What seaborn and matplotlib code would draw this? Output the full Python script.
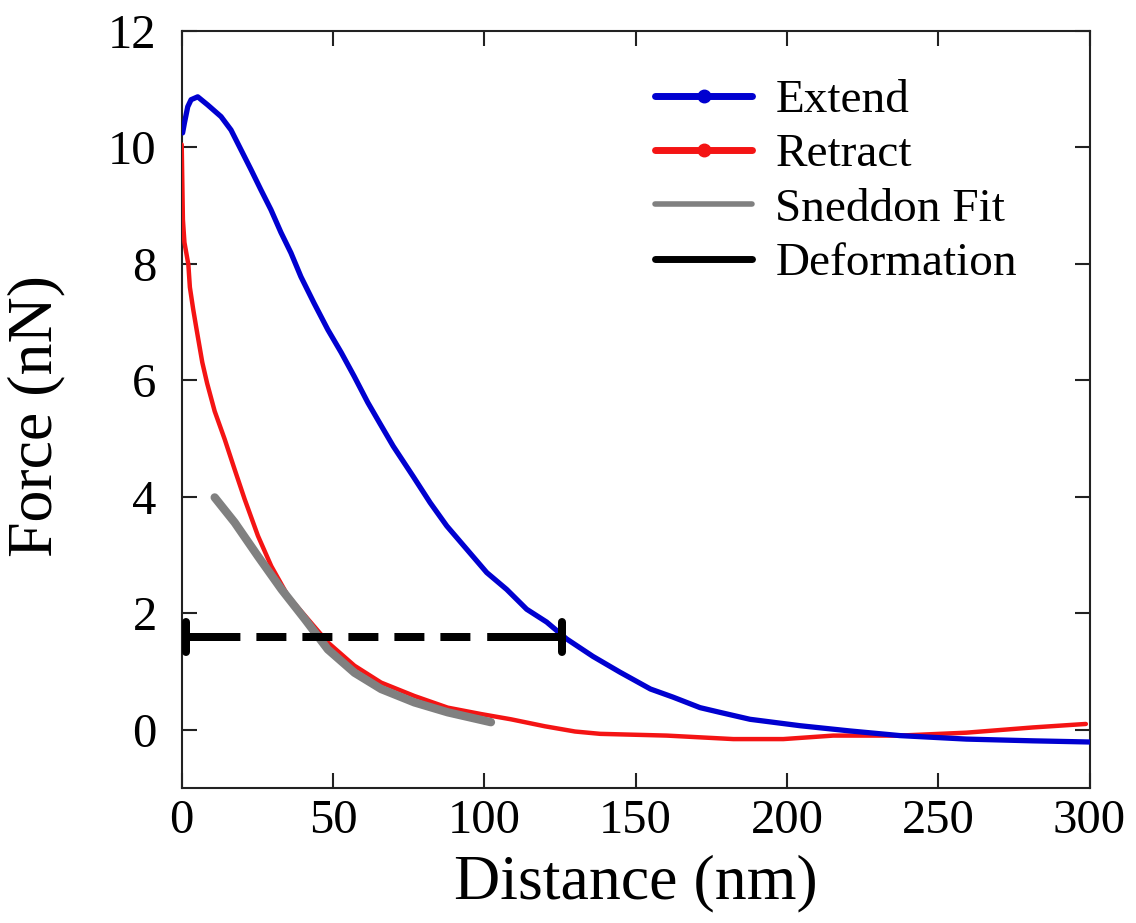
import matplotlib
matplotlib.use("Agg")
import matplotlib.pyplot as plt
from matplotlib.lines import Line2D
import numpy as np
import pandas as pd
import seaborn as sns

# ---- data (distance in nm, force in nN) ----
extend_x = [0.3, 0.9, 2.0, 3.1, 5.3, 8.6, 13.0, 16.3, 19.6, 22.9, 26.2, 29.5, 32.8,
            36.1, 39.4, 43.7, 48.3, 52.7, 57.0, 61.5, 65.4, 69.9, 76.5, 82.1, 87.6,
            94.2, 100.8, 107.4, 114.0, 120.6, 127.2, 135.9, 144.8, 154.9, 162.4,
            171.3, 177.8, 187.8, 204.3, 220.8, 237.3, 259.3, 281.3, 300.0]
extend_f = [10.25, 10.42, 10.70, 10.82, 10.87, 10.73, 10.53, 10.30, 9.96, 9.62, 9.27,
            8.93, 8.54, 8.19, 7.78, 7.33, 6.87, 6.48, 6.07, 5.62, 5.27, 4.87, 4.35,
            3.90, 3.50, 3.10, 2.70, 2.41, 2.07, 1.85, 1.56, 1.26, 0.99, 0.70, 0.56,
            0.38, 0.30, 0.18, 0.07, -0.02, -0.10, -0.16, -0.19, -0.21]

retract_x = [0.0, 0.4, 0.9, 2.2, 2.7, 3.8, 4.9, 6.8, 8.4, 10.9, 14.2, 17.5, 20.8,
             25.2, 29.6, 35.1, 41.7, 48.3, 57.1, 65.9, 76.9, 87.9, 98.9, 108.8,
             120.0, 130.0, 138.3, 160.3, 182.3, 198.8, 215.3, 237.3, 259.3, 281.3,
             298.8]
retract_f = [10.05, 8.76, 8.37, 7.99, 7.60, 7.22, 6.88, 6.31, 5.95, 5.47, 4.99, 4.47,
             3.96, 3.33, 2.81, 2.30, 1.90, 1.50, 1.10, 0.81, 0.58, 0.38, 0.27, 0.18,
             0.06, -0.03, -0.07, -0.10, -0.16, -0.16, -0.10, -0.10, -0.05, 0.04, 0.10]

fit_x = [10.9, 17.5, 25.2, 33.0, 40.7, 48.3, 57.1, 65.9, 76.9, 87.9, 102.2]
fit_f = [3.99, 3.56, 2.98, 2.41, 1.90, 1.38, 0.98, 0.70, 0.47, 0.30, 0.13]

deform_x = [1.3, 125.6]
deform_f = 1.59

x_ticks = [0, 50, 100, 150, 200, 250, 300]
y_ticks = [0, 2, 4, 6, 8, 10, 12]
labels = ["Extend", "Retract", "Sneddon Fit", "Deformation"]

BLUE = "#0000d0"
RED = "#f41414"
GRAY = "#808080"

sns.set_theme(style="ticks")
plt.rcParams["font.family"] = ["Liberation Serif", "DejaVu Serif"]
plt.rcParams["text.color"] = "black"

fig = plt.figure(figsize=(11.36, 9.23), dpi=100)
ax = fig.add_axes([181.7 / 1136, 1 - 788 / 923, (1089.5 - 181.7) / 1136, (788 - 31) / 923])

ext = pd.DataFrame({"d": extend_x, "f": extend_f})
ret = pd.DataFrame({"d": retract_x, "f": retract_f})
fit = pd.DataFrame({"d": fit_x, "f": fit_f})

sns.lineplot(data=ret, x="d", y="f", ax=ax, color=RED, lw=3.2,
             estimator=None, sort=False, zorder=3)
sns.lineplot(data=ext, x="d", y="f", ax=ax, color=BLUE, lw=3.8,
             estimator=None, sort=False, zorder=3)
sns.lineplot(data=fit, x="d", y="f", ax=ax, color=GRAY, lw=6.0,
             estimator=None, sort=False, zorder=4, solid_capstyle="round")

# deformation: dashed bar with solid end sections and vertical caps
dash_lw = 5.76
ax.plot(deform_x, [deform_f, deform_f], color="black", lw=dash_lw, zorder=5,
        dashes=[6.8, 2.0, 3.75, 2.0, 3.75, 2.0, 3.75, 2.0, 3.75, 2.0, 3.75, 2.1, 30],
        dash_capstyle="butt", solid_capstyle="butt")
for xc in deform_x:
    ax.plot([xc, xc], [deform_f - 0.26, deform_f + 0.26], color="black",
            lw=dash_lw, solid_capstyle="round", zorder=6)

ax.set_xlim(0, 300)
ax.set_ylim(-1, 12)
ax.set_xticks(x_ticks)
ax.set_yticks(y_ticks)
ax.set_xticklabels([str(t) for t in x_ticks])
ax.set_yticklabels([str(t) for t in y_ticks])

for side in ["left", "right", "top", "bottom"]:
    ax.spines[side].set_visible(True)
    ax.spines[side].set_linewidth(1.5)
    ax.spines[side].set_color("#222222")

ax.tick_params(axis="both", which="major", direction="in", length=10.8, width=1.5,
               color="#222222", top=True, right=True, labelsize=35,
               labelcolor="black")
ax.tick_params(axis="x", pad=8)
ax.tick_params(axis="y", pad=18)

ax.set_xlabel("Distance (nm)", fontsize=46, color="black")
ax.set_ylabel("Force (nN)", fontsize=46, color="black")
ax.xaxis.set_label_coords(0.5, (788 - 883) / 757)
ax.xaxis.label.set_va("center")
ax.yaxis.set_label_coords((36 - 181.7) / 908, 0.5 - (416 - 409.5) / 757)
ax.yaxis.label.set_va("center")

handles = [
    Line2D([], [], color=BLUE, lw=5, marker="o", markersize=9),
    Line2D([], [], color=RED, lw=5, marker="o", markersize=9),
    Line2D([], [], color=GRAY, lw=4),
    Line2D([], [], color="black", lw=5),
]
leg = fig.legend(handles, labels, loc="upper left",
                 bbox_to_anchor=(655 / 1136, 1 - 79 / 923), frameon=False,
                 fontsize=34, handlelength=2.06, handletextpad=0.49,
                 labelspacing=0.24, borderpad=0, borderaxespad=0)
for t in leg.get_texts():
    t.set_color("black")

fig.savefig("out.png", dpi=100, facecolor="white")
